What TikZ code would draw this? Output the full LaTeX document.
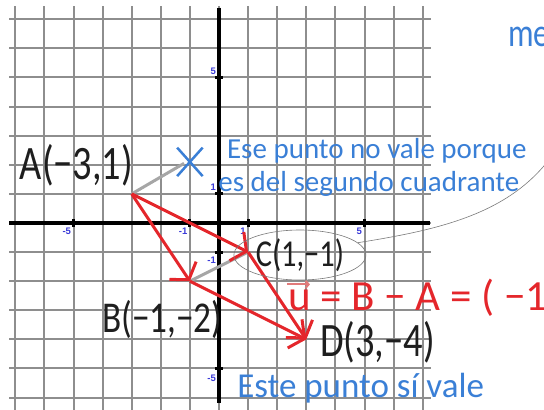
\documentclass[tikz,border=0pt]{standalone}
\usepackage{fontspec}
\setmainfont{Carlito}
\newfontfamily\handnarrow[FakeStretch=0.8]{Carlito}
\newfontfamily\tickfont{Liberation Sans}
\usetikzlibrary{arrows.meta,positioning,shapes.geometric,shapes.misc}
\definecolor{gridGray}{HTML}{8E8E8E}
\definecolor{lineGray}{HTML}{A6A6A6}
\definecolor{ringGray}{HTML}{7A7A7A}
\definecolor{penBlue}{HTML}{3A7FD6}
\definecolor{penRed}{HTML}{E4262B}
\definecolor{paleRed}{HTML}{E27A7A}
\definecolor{tickBlue}{HTML}{3A3AD8}
\definecolor{inkBlack}{HTML}{1E1E1E}

\begin{document}
\begin{tikzpicture}[
      x=29.1pt, y=29.1pt,
      gridline/.style={draw=gridGray, line width=2pt},
      axisline/.style={draw=black, line width=3.5pt},
      tickmark/.style={draw=black, line width=3pt},
      ticklabel/.style={text=tickBlue, font=\tickfont\bfseries\fontsize{9.5pt}{10pt}\selectfont, inner sep=0pt},
      ptlabel/.style={text=inkBlack, font=\handnarrow\fontsize{48pt}{50pt}\selectfont, inner sep=0pt},
      notetext/.style={text=penBlue, font=\fontsize{29pt}{31pt}\selectfont, inner sep=0pt},
      vecarr/.style={draw=penRed, line width=3pt, -{Straight Barb[length=11pt,width=32pt]}},
      helpline/.style={draw=lineGray, line width=3pt}
    ]
      \useasboundingbox (-7.526,-6.392) rectangle (11.168,7.663);
      \clip (-7.526,-6.392) rectangle (11.168,7.663);

      \foreach \x in {-7,...,7}
        \draw[gridline] (\x,-6.5) -- (\x,7.45);
      \foreach \y in {-6,...,7}
        \draw[gridline] (-7.2,\y) -- (7.3,\y);

      \draw[axisline] (-7.2,0) -- (7.25,0);
      \draw[axisline] (0,7.4) -- (0,-6.2);
      \foreach \t in {-5,-1,1,5} {
        \draw[tickmark] (\t,-0.14) -- (\t,0.14);
        \draw[tickmark] (-0.14,\t) -- (0.14,\t);
        \node[ticklabel, anchor=north east] (xl\t) at (\t-0.08,-0.17) {\t};
      }
      \node[ticklabel, anchor=south east] (yl5) at (-0.1,5.1) {5};
      \node[ticklabel, anchor=south east] (yl1) at (-0.1,1.12) {1};
      \node[ticklabel, anchor=north east] (ylm1) at (-0.1,-1.17) {-1};
      \node[ticklabel, anchor=north east] (ylm5) at (-0.1,-5.23) {-5};

      \coordinate (A) at (-3,1);
      \coordinate (B) at (-1,-2);
      \coordinate (C) at (1,-1);
      \coordinate (D) at (3,-4);
      \coordinate (X) at (-1,2.1);
      \coordinate (Xtail) at (-1.2,2.05);
      \coordinate (away) at (11.7,2.7);

      \draw[helpline] (A) -- (Xtail);
      \draw[helpline] (B) -- (C);
      \draw[vecarr] (A) -- (C);
      \draw[vecarr] (A) -- (B);
      \draw[vecarr] (B) -- (D);
      \draw[vecarr] (C) -- (D);
      \node[cross out, draw=penBlue, line width=2.5pt, minimum width=23pt, minimum height=26pt] (cross) at (X) {};

      \node[ptlabel, anchor=base west] (Alab) at (-6.85,1.48) {A(−3,1)};
      \node[ptlabel, anchor=base west, font=\handnarrow\fontsize{44pt}{46pt}\selectfont] (Blab) at (-4.02,-3.75) {B(−1,−2)};
      \node[ptlabel, ellipse, draw=ringGray, line width=0.6pt, minimum width=132pt, minimum height=50pt,
            font=\handnarrow\fontsize{38pt}{40pt}\selectfont] (Clab) at (2.78,-1.1) {C(1,−1)};
      \node[ptlabel, anchor=base west] (Dlab) at (3.47,-4.6) {D(3,−4)};
      \draw[draw=ringGray, line width=0.6pt] (Clab.12) .. controls (7.8,-0.2) and (10.3,0.4) .. (away);

      \node[notetext, anchor=base west] (note1) at (0.27,2.23) {Ese punto no vale porque};
      \node[notetext, anchor=base west] (note2) at (-0.03,1.07) {es del segundo cuadrante};
      \node[notetext, anchor=base west, font=\fontsize{35pt}{37pt}\selectfont] (note3) at (0.62,-5.98) {Este punto sí vale};
      \node[notetext, anchor=base west, font=\handnarrow\fontsize{40pt}{42pt}\selectfont] (note4) at (9.93,6.05) {me};
      \node[anchor=base west, inner sep=0pt, text=penRed, font=\fontsize{43pt}{45pt}\selectfont] (vecu) at (2.37,-2.99)
        {u = B − A = ( −1−};
      \draw[draw=paleRed, line width=2pt, -{Straight Barb[length=3pt,width=7pt]}]
        ([xshift=-1pt,yshift=-6pt]vecu.north west) -- ([xshift=22pt,yshift=-6pt]vecu.north west);
    \end{tikzpicture}
\end{document}
